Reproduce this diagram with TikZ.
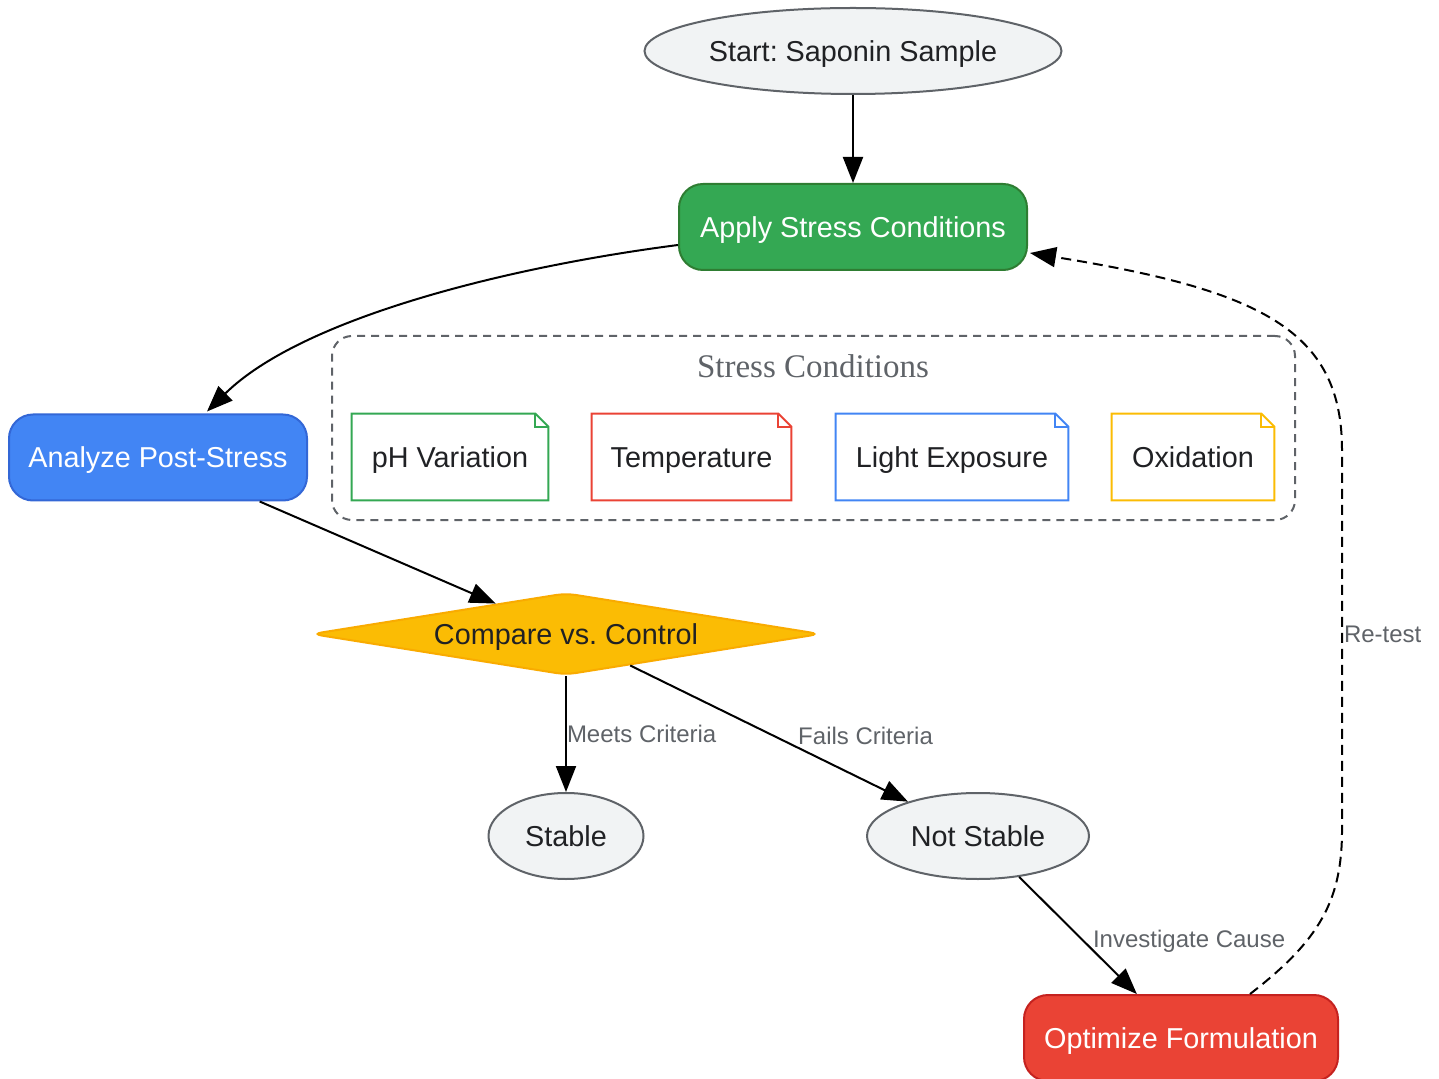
\documentclass[tikz,border=0pt]{standalone}
\usepackage{fontspec}
\setmainfont{Liberation Sans}
\newfontfamily\ttlserif{Liberation Serif}
\usetikzlibrary{arrows.meta,calc,positioning,shapes.geometric}
\frenchspacing

% outline of a note box with a folded corner
\newcommand\notefold[2]{%
    \draw [#2,line width=1pt] (#1.south west) -- (#1.north west) -- ([xshift=-6.5pt]#1.north east)
        -- ([yshift=-6.5pt]#1.north east) -- (#1.south east) -- cycle;
    \draw [#2,line width=1pt] ([xshift=-6.5pt]#1.north east) |- ([yshift=-6.5pt]#1.north east);
}

\begin{document}
\begin{tikzpicture}[
            x=0.5pt,y=-0.5pt,
            every node/.style={font=\fontsize{14.4}{17}\selectfont,text=txd,inner sep=0pt,
                               text height=10.3pt,text depth=0pt},
            term/.style={ellipse,draw=gyb,fill=gyf,line width=1pt,minimum height=43pt},
            proc/.style={rectangle,rounded corners=12pt,line width=1pt,minimum height=43pt,text=white},
            notebox/.style={rectangle,minimum height=43pt},
            lbl/.style={font=\fontsize{12}{14}\selectfont,text=lbx,text height=8.6pt},
            arr/.style={line width=1pt,-{Triangle[length=13pt,width=10pt]}}
        ]
            \definecolor{txd}{HTML}{202124}
            \definecolor{gyb}{HTML}{5F6368}
            \definecolor{gyf}{HTML}{F1F3F4}
            \definecolor{lbx}{HTML}{5F6368}
            \definecolor{grx}{HTML}{34A853}
            \definecolor{grd}{HTML}{2E7D32}
            \definecolor{blx}{HTML}{4285F4}
            \definecolor{bld}{HTML}{3367D6}
            \definecolor{rex}{HTML}{EA4335}
            \definecolor{red}{HTML}{C5221F}
            \definecolor{ylx}{HTML}{FBBC04}
            \definecolor{yld}{HTML}{F9AB00}

            \useasboundingbox (0,0) rectangle (1439,1079);

            % main flow
            \node (start) [term,minimum width=208.5pt]               at (853,51)    {Start: Saponin Sample};
            \node (apply) [proc,fill=grx,draw=grd,minimum width=174pt] at (853,227) {Apply Stress Conditions};
            \node (ana)   [proc,fill=blx,draw=bld,minimum width=149pt] at (158,457.5) {Analyze Post-Stress};
            \node (cmp)   [diamond,aspect=6.2,fill=ylx,draw=yld,line width=1pt,rounded corners=5pt,
                           minimum width=254.5pt,minimum height=41pt] at (566,634)  {Compare vs. Control};
            \node (stab)  [term,minimum width=77.5pt]                at (566,836)   {Stable};
            \node (nstab) [term,minimum width=111pt]                 at (978,836)   {Not Stable};
            \node (opt)   [proc,fill=rex,draw=red,minimum width=157pt] at (1181,1038) {Optimize Formulation};

            % stress conditions group
            \node (grp) [draw=gyb,line width=1pt,dash pattern=on 4pt off 3pt,rounded corners=10pt,
                         minimum width=481.5pt,minimum height=92pt] at (813.5,428) {};
            \node (grpttl) [font=\ttlserif\fontsize{16.5}{19}\selectfont,text=gyb,text height=10.9pt]
                at (813,367) {Stress Conditions};

            \begin{scope}[every node/.append style={notebox}]
                \node (ph)    [minimum width=98pt]    at (450,457)    {pH Variation};
                \node (temp)  [minimum width=99.5pt]  at (691.5,457)  {Temperature};
                \node (light) [minimum width=116pt]   at (952,457)    {Light Exposure};
                \node (oxi)   [minimum width=81pt]    at (1193,457)   {Oxidation};
            \end{scope}
            \notefold{ph}{grx}
            \notefold{temp}{rex}
            \notefold{light}{blx}
            \notefold{oxi}{ylx}

            % connectors
            \draw [arr] (start) -- (apply);
            \draw [arr] ($(apply.west)+(0,18)$) .. controls (500,268) and (300,320) .. ($(ana.north)+(49,-2)$);
            \draw [arr] (ana) -- (cmp);
            \draw [arr] (cmp) -- node[lbl,midway,anchor=west] {Meets Criteria} (stab);
            \draw [arr] (cmp) -- node[lbl,pos=0.515,anchor=west,xshift=12pt] {Fails Criteria} (nstab);
            \draw [arr] (nstab) -- node[lbl,pos=0.526,anchor=west,xshift=5.5pt] {Investigate Cause} (opt);
            \draw [arr,dash pattern=on 5pt off 3pt]
                ($(opt.north)+(69,0)$) .. controls (1320,940) and (1342,900) .. (1342,830)
                -- node[lbl,pos=0.516,anchor=west,xshift=0.5pt] {Re-test} (1342,450)
                .. controls (1342,330) and (1260,290) .. ($(apply.east)+(2,26)$);
        \end{tikzpicture}
\end{document}
